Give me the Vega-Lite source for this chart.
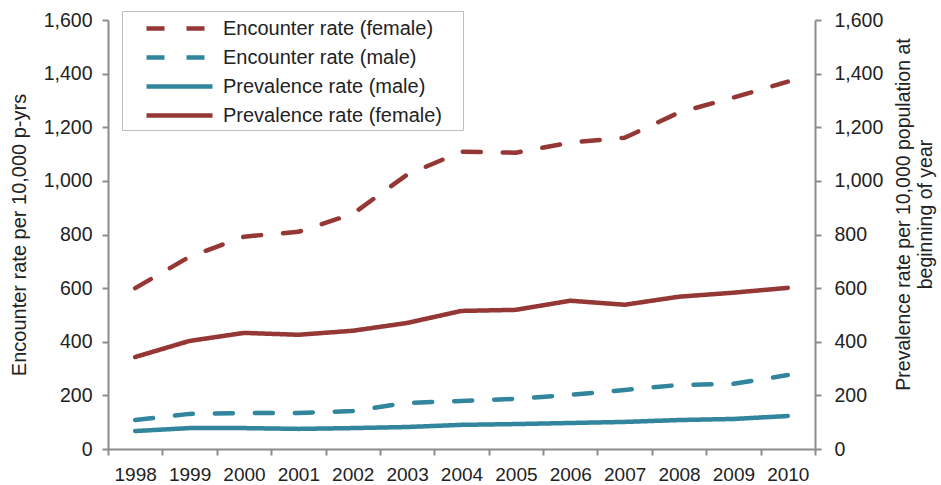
{
  "$schema": "https://vega.github.io/schema/vega-lite/v6.json",
  "width": 707,
  "height": 429,
  "autosize": "none",
  "padding": {"left": 108, "top": 20, "right": 126, "bottom": 36},
  "background": "white",
  "config": {
    "font": "Liberation Sans",
    "view": {"stroke": null},
    "axis": {"domainColor": "#8c8c8c", "tickColor": "#8c8c8c", "grid": false, "labelColor": "#222222", "titleColor": "#222222", "labelFont": "Liberation Sans", "titleFont": "Liberation Sans", "titleFontWeight": "normal", "domainWidth": 2, "tickWidth": 2}
  },
  "data": {"values": [
    {"year": "1998", "series": "Encounter rate (female)", "value": 600},
    {"year": "1999", "series": "Encounter rate (female)", "value": 717},
    {"year": "2000", "series": "Encounter rate (female)", "value": 792},
    {"year": "2001", "series": "Encounter rate (female)", "value": 810},
    {"year": "2002", "series": "Encounter rate (female)", "value": 877},
    {"year": "2003", "series": "Encounter rate (female)", "value": 1023},
    {"year": "2004", "series": "Encounter rate (female)", "value": 1109},
    {"year": "2005", "series": "Encounter rate (female)", "value": 1105},
    {"year": "2006", "series": "Encounter rate (female)", "value": 1143},
    {"year": "2007", "series": "Encounter rate (female)", "value": 1161},
    {"year": "2008", "series": "Encounter rate (female)", "value": 1255},
    {"year": "2009", "series": "Encounter rate (female)", "value": 1311},
    {"year": "2010", "series": "Encounter rate (female)", "value": 1370},
    {"year": "1998", "series": "Encounter rate (male)", "value": 108},
    {"year": "1999", "series": "Encounter rate (male)", "value": 131},
    {"year": "2000", "series": "Encounter rate (male)", "value": 134},
    {"year": "2001", "series": "Encounter rate (male)", "value": 134},
    {"year": "2002", "series": "Encounter rate (male)", "value": 142},
    {"year": "2003", "series": "Encounter rate (male)", "value": 172},
    {"year": "2004", "series": "Encounter rate (male)", "value": 179},
    {"year": "2005", "series": "Encounter rate (male)", "value": 187},
    {"year": "2006", "series": "Encounter rate (male)", "value": 202},
    {"year": "2007", "series": "Encounter rate (male)", "value": 220},
    {"year": "2008", "series": "Encounter rate (male)", "value": 239},
    {"year": "2009", "series": "Encounter rate (male)", "value": 243},
    {"year": "2010", "series": "Encounter rate (male)", "value": 276},
    {"year": "1998", "series": "Prevalence rate (male)", "value": 67},
    {"year": "1999", "series": "Prevalence rate (male)", "value": 78},
    {"year": "2000", "series": "Prevalence rate (male)", "value": 78},
    {"year": "2001", "series": "Prevalence rate (male)", "value": 75},
    {"year": "2002", "series": "Prevalence rate (male)", "value": 78},
    {"year": "2003", "series": "Prevalence rate (male)", "value": 82},
    {"year": "2004", "series": "Prevalence rate (male)", "value": 90},
    {"year": "2005", "series": "Prevalence rate (male)", "value": 93},
    {"year": "2006", "series": "Prevalence rate (male)", "value": 97},
    {"year": "2007", "series": "Prevalence rate (male)", "value": 101},
    {"year": "2008", "series": "Prevalence rate (male)", "value": 108},
    {"year": "2009", "series": "Prevalence rate (male)", "value": 112},
    {"year": "2010", "series": "Prevalence rate (male)", "value": 123},
    {"year": "1998", "series": "Prevalence rate (female)", "value": 343},
    {"year": "1999", "series": "Prevalence rate (female)", "value": 403},
    {"year": "2000", "series": "Prevalence rate (female)", "value": 433},
    {"year": "2001", "series": "Prevalence rate (female)", "value": 426},
    {"year": "2002", "series": "Prevalence rate (female)", "value": 441},
    {"year": "2003", "series": "Prevalence rate (female)", "value": 470},
    {"year": "2004", "series": "Prevalence rate (female)", "value": 515},
    {"year": "2005", "series": "Prevalence rate (female)", "value": 519},
    {"year": "2006", "series": "Prevalence rate (female)", "value": 553},
    {"year": "2007", "series": "Prevalence rate (female)", "value": 538},
    {"year": "2008", "series": "Prevalence rate (female)", "value": 568},
    {"year": "2009", "series": "Prevalence rate (female)", "value": 583},
    {"year": "2010", "series": "Prevalence rate (female)", "value": 601}
  ]},
  "encoding": {
    "x": {"field": "year", "type": "ordinal", "scale": {"type": "band", "paddingInner": 0, "paddingOuter": 0},
      "axis": {"title": null, "labelAngle": 0, "labelFontSize": 19, "tickBand": "extent", "tickSize": 6, "labelPadding": 10}}
  },
  "layer": [
    {
      "mark": {"type": "line", "strokeWidth": 4.5, "strokeCap": "round", "strokeJoin": "round"},
      "encoding": {
        "y": {"field": "value", "type": "quantitative", "scale": {"domain": [0, 1600]},
          "axis": {"title": "Encounter rate per 10,000 p-yrs", "values": [0, 200, 400, 600, 800, 1000, 1200, 1400, 1600], "format": ",d", "labelFontSize": 19.5, "titleFontSize": 20, "tickSize": 6, "labelPadding": 10, "titlePadding": 14}},
        "color": {"field": "series", "type": "nominal",
          "scale": {"domain": ["Encounter rate (female)", "Encounter rate (male)", "Prevalence rate (male)", "Prevalence rate (female)"],
                    "range": ["#953735", "#31859c", "#31859c", "#953735"]},
          "legend": {"title": "\u00a0", "titleOrient": "right", "titlePadding": 17, "titleFontSize": 20, "orient": "none", "legendX": 14, "legendY": -9, "symbolType": "M-1,0L5,0", "symbolSize": 484, "symbolStrokeWidth": 4.5, "symbolOffset": 18, "labelOffset": 52, "labelLimit": 400, "labelFontSize": 20, "labelColor": "#222222", "strokeColor": "#bfbfbf", "padding": 4, "rowPadding": 5}},
        "strokeDash": {"field": "series", "type": "nominal",
          "scale": {"domain": ["Encounter rate (female)", "Encounter rate (male)", "Prevalence rate (male)", "Prevalence rate (female)"],
                    "range": [[18, 22], [18, 22], [1, 0], [1, 0]]},
          "legend": {"title": "\u00a0", "titleOrient": "right", "titlePadding": 17, "titleFontSize": 20, "orient": "none", "legendX": 14, "legendY": -9, "symbolType": "M-1,0L5,0", "symbolSize": 484, "symbolStrokeWidth": 4.5, "symbolOffset": 18, "labelOffset": 52, "labelLimit": 400, "labelFontSize": 20, "labelColor": "#222222", "strokeColor": "#bfbfbf", "padding": 4, "rowPadding": 5}}
      }
    },
    {
      "mark": {"type": "line", "opacity": 0},
      "encoding": {
        "y": {"field": "value", "type": "quantitative", "scale": {"domain": [0, 1600]},
          "axis": {"orient": "right", "title": ["Prevalence rate per 10,000 population at", "beginning of year"], "titleAngle": -90, "titleY": 194, "titleLineHeight": 22, "values": [0, 200, 400, 600, 800, 1000, 1200, 1400, 1600], "format": ",d", "labelFontSize": 19.5, "titleFontSize": 19.5, "tickSize": 6, "labelPadding": 13, "titlePadding": 9}},
        "detail": {"field": "series"}
      }
    }
  ],
  "resolve": {"scale": {"y": "independent"}}
}
